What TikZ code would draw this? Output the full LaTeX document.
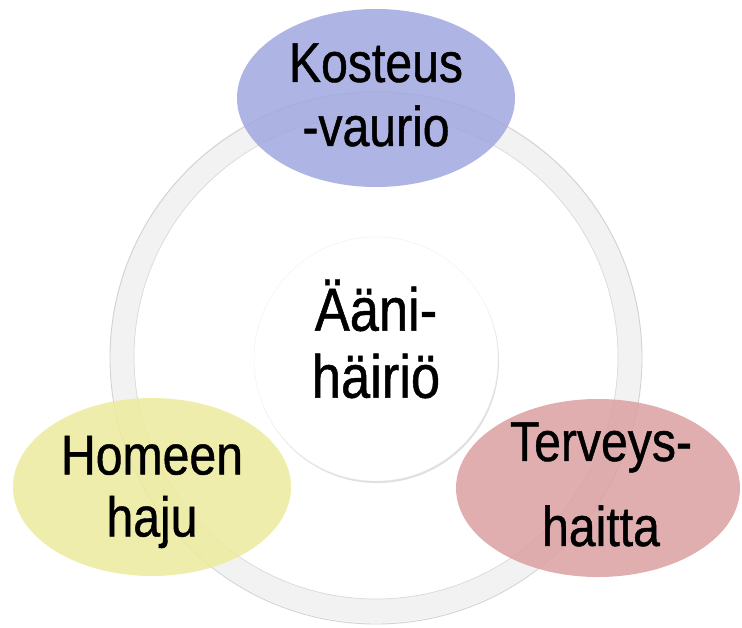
\documentclass[tikz,border=0pt]{standalone}
\usepackage{fontspec}
\setmainfont[FakeStretch=0.86, FakeBold=0.8]{Liberation Sans}
\usetikzlibrary{shapes.geometric}
\definecolor{kosteus}{RGB}{160,167,223}
\definecolor{homeen}{RGB}{237,235,157}
\definecolor{terveys}{RGB}{219,160,162}
\definecolor{rengas}{RGB}{242,242,242}
\tikzset{
	pallo/.style={ellipse, minimum height=178pt, inner sep=0pt, fill opacity=0.85},
	teksti/.style={align=center, inner sep=0pt, text=black}
}

\begin{document}
\begin{tikzpicture}[x=1pt, y=-1pt]
	\fill [white] (0,0) rectangle (742,627);
	\useasboundingbox (0,0) rectangle (742,627);
	% rengas ja keskus
	\draw [rengas, line width=24pt] (376,357) circle [radius=254pt];
	\draw [gray!35, line width=0.9pt] (376,358) circle [radius=266pt];
	\draw [gray!30, line width=0.7pt] (376,357) circle [radius=242pt];
	\fill [gray!25] (377,361) circle [radius=122pt];
	\node [circle, minimum size=244pt, fill=white, draw=gray!12] (keskus) at (376,359) {};
	\node [teksti, font=\fontsize{61}{67}\selectfont] (keskusteksti) at (376,339) {Ääni-\\häiriö};
	% pallot
	\node [pallo, minimum width=278pt, fill=kosteus] (vaurio) at (376,98) {};
	\node [pallo, minimum width=278pt, fill=homeen] (haju) at (152,487) {};
	\node [pallo, minimum width=284pt, fill=terveys] (haitta) at (598,488) {};
	\node [teksti, font=\fontsize{56}{64}\selectfont] (vaurioteksti) at (376,95) {Kosteus\\-vaurio};
	\node [teksti, font=\fontsize{56}{62}\selectfont] (hajuteksti) at (152,492) {Homeen\\haju};
	\node [teksti, font=\fontsize{56}{85}\selectfont] (haittateksti) at (601,484.5) {Terveys-\\haitta};
\end{tikzpicture}
\end{document}
